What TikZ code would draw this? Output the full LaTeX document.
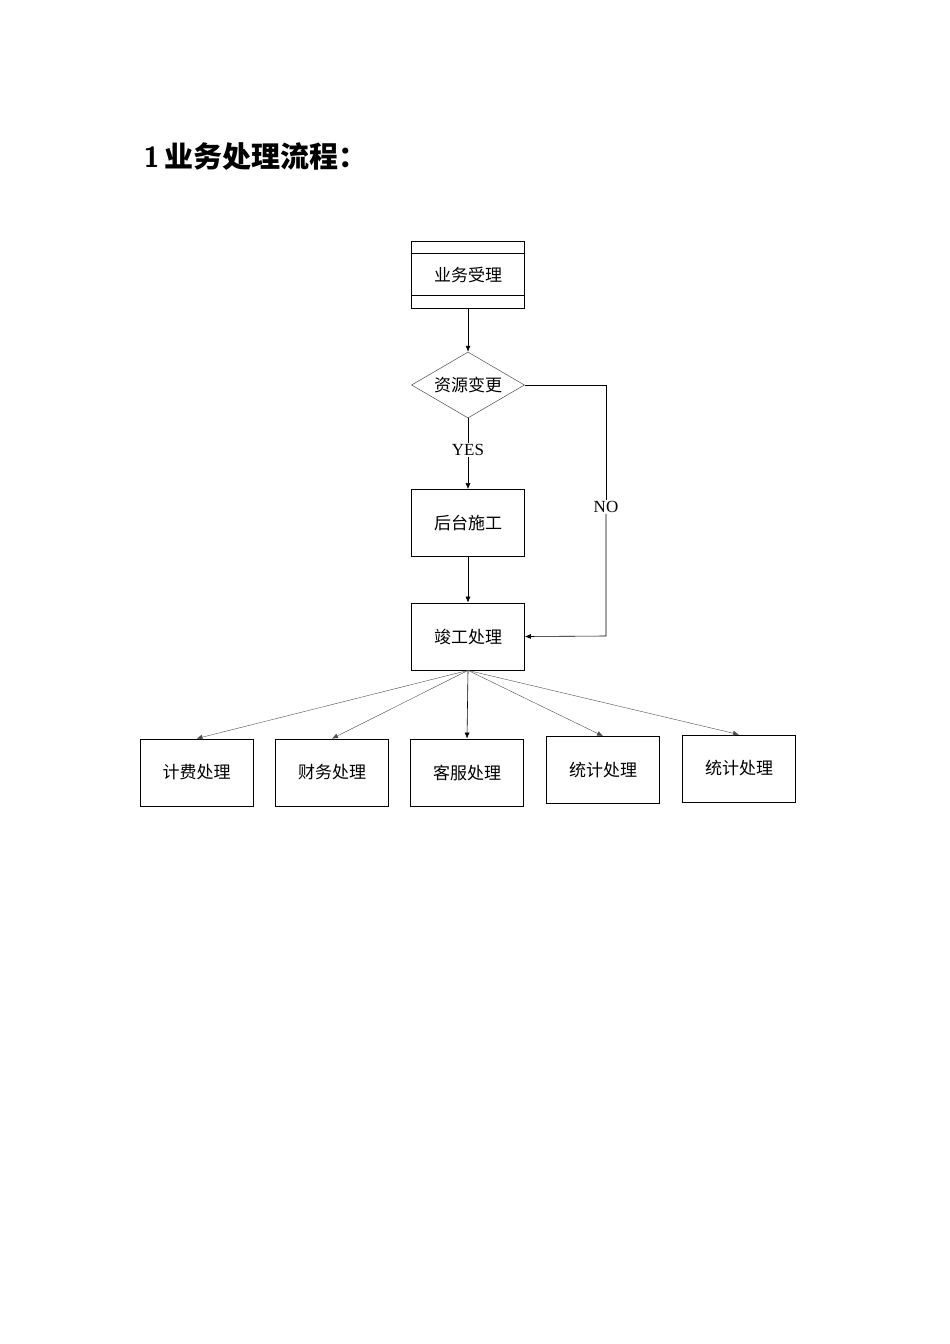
\documentclass[tikz,border=0pt]{standalone}
\usepackage{fontspec}
\newfontfamily\cjk{Noto Sans CJK SC}
\setmainfont{Liberation Serif}
\usetikzlibrary{shapes.geometric,arrows.meta}
\begin{document}
\begin{tikzpicture}[x=1pt,y=-1pt,
  box/.style={draw,line width=0.8pt,minimum width=113pt,minimum height=67pt,font=\cjk\fontsize{17}{17}\selectfont},
  arr/.style={-{Latex[length=6pt,width=5pt]},line width=0.6pt},
  thin/.style={-{Latex[length=6pt,width=5pt]},line width=0.4pt,draw=black!70}]
\useasboundingbox (0,0) rectangle (950,1344);
\node[anchor=west,font=\fontsize{29}{29}\selectfont] (title) at (140,157) {\sffamily\bfseries 1\,\cjk 业务处理流程：};
\node[box] (a) at (468,274.5) {业务受理};
\draw[line width=0.8pt] (a.north west)++(0,13) -- ++(113,0);
\draw[line width=0.8pt] (a.south west)++(0,-13) -- ++(113,0);
\node[diamond,draw,draw=black!70,line width=0.5pt,minimum width=113pt,minimum height=66pt,aspect=1.7,inner sep=0pt,font=\cjk\fontsize{17}{17}\selectfont] (d) at (468,385) {资源变更};
\node[box] (b) at (468,523) {后台施工};
\node[box] (c) at (468,636.5) {竣工处理};
\node[font=\fontsize{17}{17}\selectfont,inner sep=1pt,fill=white] (yes) at (468,450) {YES};
\node[font=\fontsize{17}{17}\selectfont,inner sep=1pt,fill=white] (no) at (606,507) {NO};
\coordinate (n1) at (606,385);
\coordinate (n2) at (606,636);
\draw[arr] (a) -- (d);
\draw[line width=0.6pt] (d.south) -- (yes.north);
\draw[arr] (yes.south) -- (b.north);
\draw[arr] (b) -- (c);
\draw[line width=0.6pt] (d.east) -- (n1) -- (no.north);
\draw[arr] (no.south) -- (n2) -- (c.east);
\node[box] (e1) at (196.5,772.5) {计费处理};
\node[box] (e2) at (332,772.5) {财务处理};
\node[box] (e3) at (467,772.5) {客服处理};
\node[box] (e4) at (603,770) {统计处理};
\node[box] (e5) at (739,768.5) {统计处理};
\draw[thin] (c.south) -- (e1.north);
\draw[thin] (c.south) -- (e2.north);
\draw[arr] (c.south) -- (e3.north);
\draw[thin] (c.south) -- (e4.north);
\draw[thin] (c.south) -- (e5.north);
\end{tikzpicture}
\end{document}
